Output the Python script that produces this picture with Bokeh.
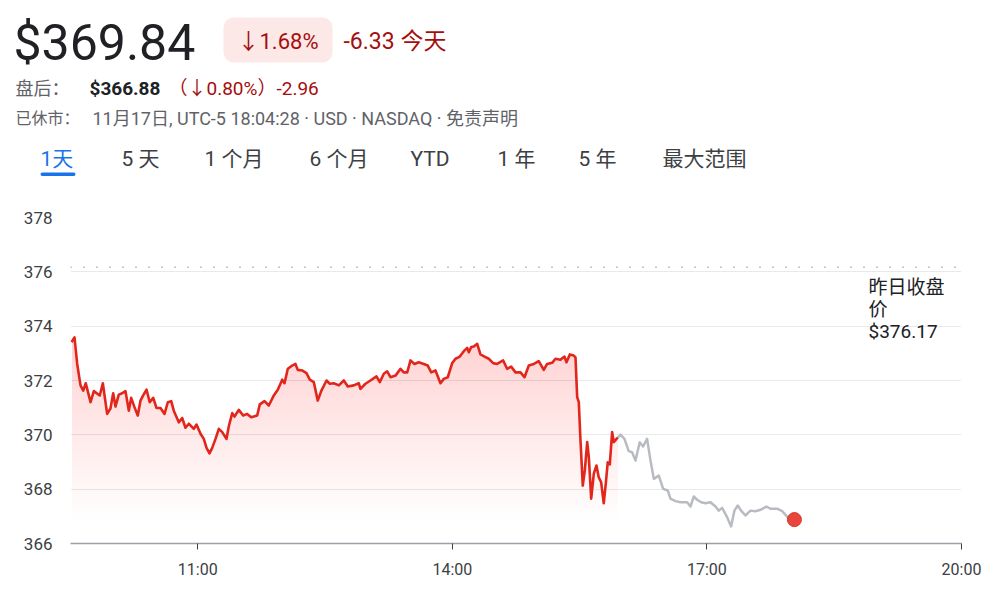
import numpy as np
from bokeh.plotting import figure
from bokeh.models import Range1d, FixedTicker, Span, BoxAnnotation
from bokeh.layouts import column
from bokeh.core.properties import value
from bokeh.embed import file_html
from bokeh.resources import INLINE

# ---------------- data ----------------
session_time = [9.512, 9.547, 9.579, 9.618, 9.650, 9.680, 9.736, 9.775, 9.845, 9.881,
                9.932, 9.971, 10.003, 10.030, 10.069, 10.109, 10.148, 10.187, 10.215, 10.254,
                10.293, 10.325, 10.356, 10.396, 10.434, 10.475, 10.513, 10.561, 10.608, 10.647,
                10.687, 10.717, 10.776, 10.816, 10.855, 10.894, 10.953, 10.985, 11.032, 11.071,
                11.103, 11.138, 11.170, 11.209, 11.248, 11.288, 11.338, 11.365, 11.406, 11.433,
                11.483, 11.535, 11.582, 11.629, 11.700, 11.731, 11.786, 11.837, 11.896, 11.943,
                11.995, 12.022, 12.061, 12.113, 12.151, 12.178, 12.230, 12.281, 12.320, 12.367,
                12.414, 12.454, 12.517, 12.556, 12.603, 12.662, 12.721, 12.768, 12.838, 12.897,
                12.917, 12.976, 13.035, 13.106, 13.145, 13.192, 13.232, 13.271, 13.330, 13.389,
                13.428, 13.468, 13.507, 13.554, 13.604, 13.663, 13.710, 13.751, 13.801, 13.860,
                13.899, 13.946, 13.998, 14.037, 14.088, 14.135, 14.175, 14.194, 14.222, 14.253,
                14.293, 14.331, 14.379, 14.429, 14.481, 14.528, 14.598, 14.645, 14.693, 14.744,
                14.803, 14.850, 14.901, 14.960, 15.018, 15.077, 15.117, 15.176, 15.215, 15.274,
                15.321, 15.345, 15.384, 15.431, 15.451, 15.471, 15.490, 15.510, 15.537, 15.561,
                15.589, 15.608, 15.636, 15.667, 15.698, 15.725, 15.753, 15.784, 15.808, 15.831,
                15.855, 15.883, 15.902, 15.934, 15.949]
session_price = [373.41, 373.59, 372.61, 371.82, 371.63, 371.90, 371.20, 371.61, 371.45, 371.90,
                 370.77, 370.97, 371.53, 371.04, 371.48, 371.53, 371.61, 370.89, 371.36, 371.02,
                 370.71, 371.26, 371.45, 371.66, 371.20, 371.36, 370.99, 370.99, 370.77, 371.20,
                 371.24, 370.89, 370.46, 370.62, 370.26, 370.41, 370.22, 370.38, 370.04, 369.85,
                 369.52, 369.32, 369.52, 369.85, 370.22, 370.10, 369.85, 370.31, 370.80, 370.67,
                 370.92, 370.71, 370.77, 370.65, 370.71, 371.12, 371.24, 371.08, 371.45, 371.66,
                 372.03, 371.90, 372.43, 372.55, 372.61, 372.39, 372.37, 372.27, 372.03, 371.94,
                 371.26, 371.61, 372.00, 371.88, 371.90, 371.82, 372.00, 371.78, 371.82, 371.90,
                 371.69, 371.88, 372.00, 372.15, 371.94, 372.25, 372.34, 372.12, 372.18, 372.43,
                 372.30, 372.30, 372.74, 372.61, 372.67, 372.61, 372.55, 372.30, 372.37, 371.90,
                 372.06, 372.12, 372.64, 372.80, 372.88, 373.08, 373.20, 373.04, 373.23, 373.25,
                 373.35, 372.96, 372.88, 372.80, 372.64, 372.61, 372.74, 372.43, 372.51, 372.30,
                 372.30, 372.12, 372.55, 372.61, 372.71, 372.39, 372.61, 372.65, 372.80, 372.76,
                 372.88, 372.67, 372.96, 372.92, 372.85, 371.39, 371.20, 369.79, 368.13, 368.69,
                 369.73, 369.18, 367.65, 368.57, 368.87, 368.44, 368.26, 367.48, 368.20, 368.99,
                 368.91, 370.10, 369.73, 369.85, 369.90]
after_time = [15.949, 15.981, 16.028, 16.078, 16.118, 16.158, 16.208, 16.248, 16.295, 16.335,
              16.374, 16.433, 16.484, 16.539, 16.570, 16.629, 16.688, 16.767, 16.806, 16.845,
              16.884, 16.932, 16.983, 17.042, 17.101, 17.140, 17.179, 17.238, 17.285, 17.324,
              17.363, 17.403, 17.454, 17.513, 17.572, 17.631, 17.702, 17.749, 17.828, 17.886,
              17.945, 18.031]
after_price = [369.90, 370.01, 369.85, 369.40, 369.36, 369.05, 369.73, 369.57, 369.85, 369.05,
               368.38, 368.50, 368.01, 367.95, 367.65, 367.56, 367.52, 367.52, 367.36, 367.73,
               367.61, 367.52, 367.48, 367.52, 367.36, 367.21, 367.31, 366.97, 366.63, 367.21,
               367.40, 367.21, 367.03, 367.21, 367.19, 367.24, 367.36, 367.28, 367.28, 367.19,
               366.99, 366.88]

prev_close = 376.17
last_price = 369.84
change_pct = -1.68
change_abs = -6.33
after_last = 366.88
after_pct = -0.80
after_abs = -2.96

y_ticks = [366, 368, 370, 372, 374, 376, 378]
x_ticks = [11, 14, 17, 20]
x_tick_labels = ["11:00", "14:00", "17:00", "20:00"]
tabs = ["1天", "5 天", "1 个月", "6 个月", "YTD", "1 年", "5 年", "最大范围"]
close_label = ["昨日收盘", "价", f"${prev_close:.2f}"]

# ---------------- layout / style ----------------
W = 992
HH = 190          # header height (page y 0..190)
HC = 410          # chart height  (page y 190..600)
FONT = "Roboto, 'Noto Sans CJK SC', 'DejaVu Sans', sans-serif"
RED_TXT = "#a50e0e"
GRAY_TXT = "#5f6368"
DARK = "#202124"

# header figure, coordinates in pixels (y measured from top of the page)
hdr = figure(width=W, height=HH, x_range=Range1d(0, W), y_range=Range1d(0, HH),
             toolbar_location=None, output_backend="svg", min_border=0)
hdr.frame_align = False
hdr.axis.visible = False
hdr.grid.visible = False
hdr.outline_line_color = None


def ty(v):
    return HH - v


def htext(x, y, s, size, color, weight="normal"):
    hdr.text(x=[x], y=[ty(y)], text=[s], text_font=value(FONT), text_font_size=size,
             text_color=color, text_baseline="middle", text_align="left",
             text_font_style=weight)


hdr.add_layout(BoxAnnotation(left=223, right=332, top=ty(17), bottom=ty(62),
                             fill_color="#fce8e6", fill_alpha=1, line_color=None,
                             border_radius=10, level="underlay"))
hdr.add_layout(BoxAnnotation(left=40, right=75, top=ty(172), bottom=ty(175.5),
                             fill_color="#1a73e8", fill_alpha=1, line_color=None,
                             border_radius=2, level="underlay"))

htext(13, 42, f"${last_price:.2f}", "50px", DARK)
htext(237, 41, f"↓{abs(change_pct):.2f}%", "22px", RED_TXT)
htext(343, 41, f"{change_abs:.2f} 今天", "23px", RED_TXT)
htext(15, 88, "盘后：", "18px", GRAY_TXT)
htext(89, 88, f"${after_last:.2f}", "19px", DARK, "bold")
htext(168, 88, f"（↓{abs(after_pct):.2f}%）{after_abs:.2f}", "19px", RED_TXT)
htext(15, 118, "已休市：", "16px", GRAY_TXT)
htext(92, 118, "11月17日, UTC-5 18:04:28 · USD · NASDAQ · 免责声明", "18px", GRAY_TXT)

tab_x = [40, 121, 204, 309, 410, 497, 578, 662]
for i, (tx, t) in enumerate(zip(tab_x, tabs)):
    htext(tx, 158, t, "21px", "#1a73e8" if i == 0 else "#3c4043")

# chart figure
p = figure(width=W, height=HC, x_range=Range1d(9.5, 20), y_range=Range1d(366, 378),
           toolbar_location=None, output_backend="svg",
           min_border_left=70, min_border_right=31, min_border_top=27, min_border_bottom=57)
p.outline_line_color = None
p.background_fill_color = "white"

tr = np.array(session_time)
pr = np.array(session_price)

# vertical gradient under the session line, built from stacked translucent bands
for lv in np.arange(366.9, 373.8, 0.15):
    p.varea(x=tr, y1=lv, y2=np.maximum(pr, lv), fill_color="#e44b48", fill_alpha=0.0085)

p.add_layout(Span(location=prev_close, dimension="width", line_color="#80868b",
                  line_dash="1 12", line_width=1.5))

p.line(after_time, after_price, line_color="#b8bcc2", line_width=2.5, line_join="round")
p.line(tr, pr, line_color="#e3261b", line_width=2.6, line_join="round")
p.scatter([after_time[-1]], [after_price[-1]], size=14, fill_color="#e8453c",
          line_color="#d93025", line_width=1)

for k, s in enumerate(close_label):
    p.text(x=[20], y=[prev_close], text=[s], x_offset=-93, y_offset=20 + 22 * k,
           text_font=value(FONT), text_font_size="19px", text_color=DARK,
           text_baseline="middle", text_align="left")

p.yaxis.ticker = FixedTicker(ticks=y_ticks)
p.yaxis.axis_line_color = None
p.yaxis.major_tick_line_color = None
p.yaxis.minor_tick_line_color = None
p.yaxis.major_label_standoff = 12
p.yaxis.major_label_text_font = FONT
p.yaxis.major_label_text_font_size = "17px"
p.yaxis.major_label_text_color = "#3c4043"

p.xaxis.ticker = FixedTicker(ticks=x_ticks)
p.xaxis.major_label_overrides = {k: v for k, v in zip(x_ticks, x_tick_labels)}
p.xaxis.axis_line_color = "#9aa0a6"
p.xaxis.axis_line_width = 1.5
p.xaxis.major_tick_line_color = "#3c4043"
p.xaxis.major_tick_out = 6
p.xaxis.major_tick_in = 0
p.xaxis.minor_tick_line_color = None
p.xaxis.major_label_standoff = 10
p.xaxis.major_label_text_font = FONT
p.xaxis.major_label_text_font_size = "16px"
p.xaxis.major_label_text_color = "#3c4043"

p.xgrid.visible = False
p.ygrid.grid_line_color = "#e8eaed"
p.ygrid.grid_line_width = 1

layout = column(hdr, p, spacing=0)
open("out.html", "w").write(file_html(layout, INLINE))
